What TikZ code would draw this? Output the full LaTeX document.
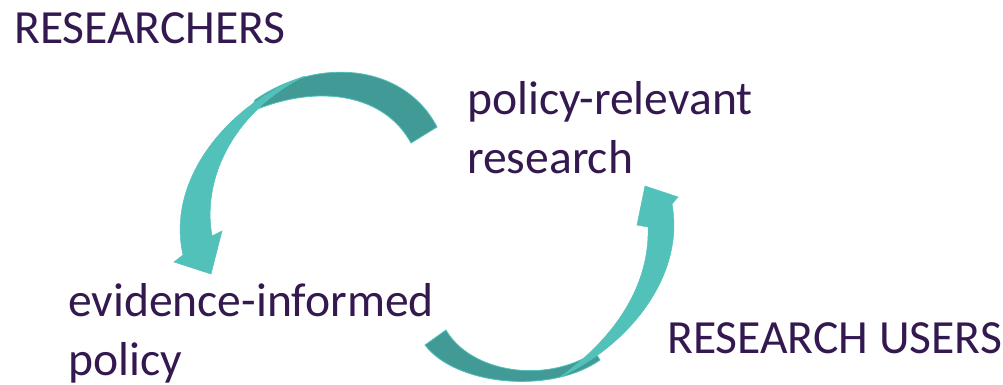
\documentclass[tikz,border=0pt]{standalone}
\usepackage{fontspec}
\setmainfont{Carlito}
\definecolor{txtpurple}{HTML}{33194F}
\definecolor{darkteal}{HTML}{419A96}
\definecolor{lightteal}{HTML}{52C1BA}
\begin{document}
\begin{tikzpicture}[x=1pt,y=-1pt,
  lbl/.style={inner sep=0pt,anchor=base west,align=left,text=txtpurple,
    font=\fontsize{47.6}{58.5}\selectfont},
  backband/.style={fill=darkteal,draw=lightteal,line width=0.8pt},
  frontband/.style={fill=lightteal,draw=lightteal,line width=0.5pt}]
\useasboundingbox (0,0) rectangle (1003,384);
% arrow 1 (top-left)
\path[backband] (437,127) .. controls (405,65) and (320,55) .. (255,100)
  -- (250,112) .. controls (320,82) and (385,95) .. (411,143) -- cycle;
\path[frontband] (305,76) .. controls (235,100) and (165,175) .. (183,255)
  -- (174,262) -- (211,274) -- (222,231) -- (212,236)
  .. controls (201,172) and (240,108) .. (305,76) -- cycle;
% arrow 2 (bottom-right)
\path[backband] (425,345) .. controls (455,385) and (550,395) .. (600,360)
  -- (595,352) .. controls (545,385) and (470,372) .. (446,330) -- cycle;
\path[frontband] (560,377) .. controls (630,345) and (685,275) .. (672,204)
  -- (678,197) -- (645,186) -- (637,225) -- (648,227)
  .. controls (650,285) and (615,338) .. (560,377) -- cycle;
% labels (base anchor = baseline of last line)
\node[lbl] (researchers) at (14,43) {RESEARCHERS};
\node[lbl] (prr) at (467,173) {policy-relevant\\research};
\node[lbl] (eip) at (68,375) {evidence-informed\\policy};
\node[lbl] (users) at (667,353) {RESEARCH USERS};
\end{tikzpicture}
\end{document}
